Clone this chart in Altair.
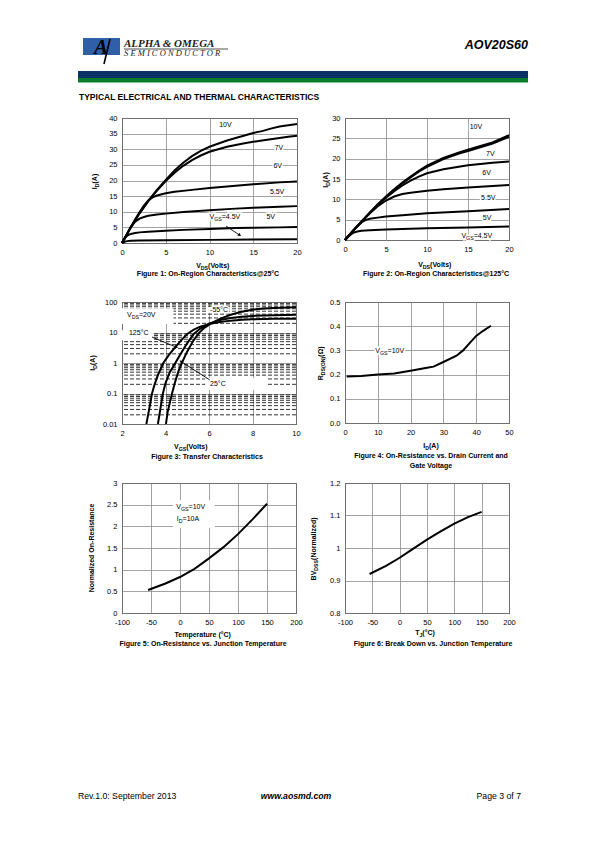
import altair as alt
import pandas as pd

F = "Liberation Sans"
SERIF = "Liberation Serif"
GRID = "#8c8c8c"

# ---------------- Figure 1 : On-region characteristics @25C ----------------
F1_X_BIG = [0, 0.5, 1, 2, 3, 4, 5, 6, 7, 8, 9, 10, 12, 14, 15, 16, 17, 18, 19, 20]
F1_Y_10V = [0, 2.5, 5, 9.5, 13.5, 17, 20.2, 23.2, 25.7, 27.8, 29.5, 30.8, 32.8, 34.4, 35.2, 35.8, 36.6, 37.3, 37.7, 38.1]
F1_Y_7V = [0, 2.5, 5, 9.5, 13.4, 16.8, 19.8, 22.5, 24.7, 26.5, 28, 29.2, 30.8, 31.9, 32.4, 32.8, 33.2, 33.6, 34.0, 34.3]
F1_X_6V = [0, 0.5, 1, 1.5, 2, 2.5, 3, 3.5, 4, 5, 6, 8, 10, 12, 15, 18, 20]
F1_Y_6V = [0, 2.5, 5, 7.5, 9.8, 12, 13.6, 14.6, 15.2, 15.9, 16.4, 17.0, 17.6, 18.1, 18.8, 19.4, 19.7]
F1_X_55V = [0, 0.5, 1, 1.5, 2, 2.5, 3, 4, 5, 7, 10, 13, 15, 18, 20]
F1_Y_55V = [0, 2.5, 5, 6.8, 7.8, 8.3, 8.7, 9.1, 9.4, 9.9, 10.5, 11.0, 11.3, 11.6, 11.8]
F1_X_5V = [0, 0.3, 0.6, 1, 1.5, 2, 3, 5, 7, 10, 13, 15, 18, 20]
F1_Y_5V = [0, 1.5, 2.4, 2.9, 3.2, 3.4, 3.6, 3.9, 4.2, 4.5, 4.8, 4.9, 5.0, 5.1]
F1_X_45V = [0, 0.3, 0.6, 1, 2, 5, 10, 15, 20]
F1_Y_45V = [0, 0.4, 0.6, 0.7, 0.8, 0.9, 1.0, 1.1, 1.2]

# ---------------- Figure 2 : On-region characteristics @125C ----------------
F2_X_BIG = [0, 1, 2, 3, 4, 5, 6, 7, 8, 9, 10, 12, 14, 15, 16, 18, 20]
F2_Y_10V = [0, 2.3, 4.5, 6.7, 8.8, 10.7, 12.5, 14.1, 15.6, 17, 18.3, 20.2, 21.6, 22.2, 22.8, 24, 25.8]
F2_Y_7V = [0, 2.3, 4.5, 6.6, 8.7, 10.6, 12.4, 13.9, 15.4, 16.8, 18.0, 19.9, 21.3, 21.9, 22.5, 23.7, 25.4]
F2_X_6V = [0, 1, 2, 3, 4, 5, 6, 7, 8, 9, 10, 12, 15, 18, 20]
F2_Y_6V = [0, 2.3, 4.5, 6.6, 8.6, 10.4, 12, 13.4, 14.6, 15.6, 16.4, 17.4, 18.4, 19.0, 19.3]
F2_X_55V = [0, 1, 2, 3, 4, 5, 6, 7, 8, 10, 12, 15, 18, 20]
F2_Y_55V = [0, 2.3, 4.4, 6.5, 8.3, 9.7, 10.7, 11.3, 11.6, 12.1, 12.5, 12.9, 13.3, 13.5]
F2_X_5V = [0, 0.5, 1, 1.5, 2, 2.5, 3, 4, 5, 7, 10, 15, 20]
F2_Y_5V = [0, 1.2, 2.3, 3.4, 4.3, 4.9, 5.2, 5.5, 5.8, 6.1, 6.6, 7.1, 7.6]
F2_X_45V = [0, 0.5, 1, 1.5, 2, 3, 5, 10, 15, 20]
F2_Y_45V = [0, 1.0, 1.8, 2.1, 2.3, 2.4, 2.6, 2.9, 3.1, 3.3]

# ---------------- Figure 3 : Transfer characteristics ----------------
F3_X_125 = [3.12, 3.2, 3.28, 3.38, 3.5, 3.65, 3.9, 4.15, 4.4, 4.7, 5.0, 5.3, 5.6, 6.0, 6.5, 7.0, 7.5, 8, 9, 10]
F3_Y_125 = [0.01, 0.02, 0.04, 0.1, 0.2, 0.4, 1.0, 1.8, 3.0, 5.3, 9.0, 12.5, 15.5, 18.8, 22, 24.5, 26, 27, 28, 28.5]
F3_X_25 = [3.65, 3.72, 3.8, 3.88, 4.0, 4.2, 4.45, 4.7, 5.0, 5.3, 5.6, 6.0, 6.5, 7.0, 7.5, 8, 9, 10]
F3_Y_25 = [0.01, 0.02, 0.045, 0.1, 0.22, 0.5, 1.0, 2.0, 4.5, 9.0, 13.5, 19.5, 25.5, 30, 33, 35, 37, 38]
F3_X_M55 = [4.02, 4.1, 4.2, 4.3, 4.45, 4.6, 4.75, 5.0, 5.25, 5.5, 5.8, 6.1, 6.5, 7.0, 7.5, 8, 8.5, 9, 10]
F3_Y_M55 = [0.01, 0.025, 0.05, 0.1, 0.25, 0.55, 1.0, 2.4, 5.0, 9.0, 14.5, 20, 28, 38, 48, 56, 61, 64, 67]
F3_MINOR = [0.02, 0.03, 0.04, 0.05, 0.06, 0.07, 0.08, 0.09,
            0.2, 0.3, 0.4, 0.5, 0.6, 0.7, 0.8, 0.9,
            2, 3, 4, 5, 6, 7, 8, 9,
            20, 30, 40, 50, 60, 70, 80, 90]

# ---------------- Figure 4 : Rds(on) vs drain current ----------------
F4_ID = [0.5, 5, 10, 15, 20, 25, 27, 30, 34, 36, 38, 40, 42, 44.5]
F4_R = [0.192, 0.194, 0.2, 0.205, 0.216, 0.228, 0.233, 0.252, 0.278, 0.3, 0.33, 0.36, 0.38, 0.402]

# ---------------- Figure 5 : normalized Rds(on) vs temperature ----------------
F5_T = [-55, -25, 0, 25, 50, 75, 100, 125, 150]
F5_R = [0.53, 0.68, 0.83, 1.02, 1.26, 1.52, 1.82, 2.16, 2.52]

# ---------------- Figure 6 : breakdown vs temperature ----------------
F6_T = [-55, -25, 0, 25, 50, 75, 100, 125, 150]
F6_BV = [0.920, 0.945, 0.970, 0.998, 1.026, 1.051, 1.075, 1.095, 1.111]

ONE = alt.Data(values=[{"a": 1}])

REG = {' ': .278, '(': .333, ')': .333, '.': .278, '=': .584, '°': .4, 'Ω': .768,
       'A': .667, 'B': .667, 'C': .722, 'D': .722, 'G': .778, 'I': .278, 'J': .5, 'N': .722,
       'O': .778, 'R': .722, 'S': .667, 'T': .611, 'V': .667, 'a': .556, 'd': .556, 'e': .556,
       'i': .222, 'l': .222, 'm': .833, 'o': .556, 'r': .333, 's': .5, 't': .278, 'z': .5,
       'u': .556, 'p': .556, 'c': .5, 'n': .556, '-': .333}
BOLD = {' ': .278, '(': .333, ')': .333, '.': .278, '=': .584, '°': .4, 'Ω': .768,
        'A': .722, 'B': .722, 'C': .722, 'D': .722, 'G': .778, 'I': .278, 'J': .556, 'N': .722,
        'O': .778, 'R': .722, 'S': .667, 'T': .611, 'V': .667, 'a': .556, 'd': .611, 'e': .556,
        'i': .278, 'l': .278, 'm': .889, 'o': .611, 'r': .389, 's': .556, 't': .333, 'z': .5,
        'u': .611, 'p': .611, 'c': .556, 'n': .611, '-': .333}


def tw(s, size, bold):
    tbl = BOLD if bold else REG
    return sum(tbl.get(c, 0.556) for c in s) * size


def vtext(text, x, y, size=7, bold=False, align="left", baseline="middle", angle=0,
          italic=False, font=F, color="black"):
    kw = dict(text=text, align=align, baseline=baseline, fontSize=size, font=font,
              fill=color, fontWeight="bold" if bold else "normal")
    if italic:
        kw["fontStyle"] = "italic"
    if angle:
        kw["angle"] = angle
    return alt.Chart(ONE).mark_text(**kw).encode(x=alt.value(x), y=alt.value(y))


def rich(parts, x, y, size=7, bold=True, angle=0):
    sub = size * 0.75
    ws = [tw(t, sub if s else size, bold) for t, s in parts]
    W = sum(ws)
    acc = 0
    out = []
    for (t, s), w in zip(parts, ws):
        fs = sub if s else size
        if angle == 0:
            out.append(vtext(t, x - W / 2 + acc, y + (2 if s else 0), fs, bold))
        else:
            out.append(vtext(t, x + (2 if s else 0), y + W / 2 - acc, fs, bold, angle=270))
        acc += w
    return out


def axis_q(values, fmt=None):
    kw = dict(values=values, title=None, grid=True, gridColor=GRID, gridWidth=0.8,
              ticks=False, domain=False, labelFont=F, labelFontSize=7.5, labelColor="black",
              labelPadding=5, labelFlush=False, labelOverlap=False,
              labelExpr="replace(datum.label, '\u2212', '-')")
    if fmt:
        kw["format"] = fmt
    return alt.Axis(**kw)


def encs(xdom, xvals, ydom, yvals, ylog=False, yfmt=None):
    ex = alt.X("x:Q", scale=alt.Scale(domain=xdom, nice=False, zero=False), axis=axis_q(xvals))
    if ylog:
        ys = alt.Scale(type="log", domain=ydom, nice=False)
    else:
        ys = alt.Scale(domain=ydom, nice=False, zero=False)
    ey = alt.Y("y:Q", scale=ys, axis=axis_q(yvals, yfmt))
    return ex, ey


def dlabel(parts, xv, yv, ex, ey, size=7, halo=True):
    sub = size * 0.75
    ws = [tw(t, sub if s else size, False) for t, s in parts]
    df = pd.DataFrame({"x": [xv], "y": [yv]})
    hal, txt = [], []
    acc = 0
    for (t, s), w in zip(parts, ws):
        fs = sub if s else size
        dy = 2 if s else 0
        if halo:
            hal.append(alt.Chart(df).mark_text(text=t, align="left", baseline="middle", fontSize=fs,
                                               font=F, dx=acc, dy=dy, stroke="white", strokeWidth=3,
                                               fill="white").encode(x=ex, y=ey))
        txt.append(alt.Chart(df).mark_text(text=t, align="left", baseline="middle", fontSize=fs,
                                           font=F, dx=acc, dy=dy, fill="black").encode(x=ex, y=ey))
        acc += w
    return hal + txt


def series(pairs):
    rows = []
    for name, xs, ys in pairs:
        for a, b in zip(xs, ys):
            rows.append({"s": name, "x": a, "y": b})
    return pd.DataFrame(rows)


def curves(df, ex, ey):
    return alt.Chart(df).mark_line(color="black", strokeWidth=2).encode(x=ex, y=ey, detail="s:N")


def arrow(x0, y0, x1, y1, ang, ex, ey):
    seg = alt.Chart(pd.DataFrame({"x": [x0, x1], "y": [y0, y1]})).mark_line(
        color="black", strokeWidth=0.9).encode(x=ex, y=ey)
    head = alt.Chart(pd.DataFrame({"x": [x1], "y": [y1]})).mark_point(
        shape="triangle", angle=ang, size=14, filled=True, color="black", opacity=1).encode(x=ex, y=ey)
    return [seg, head]


def boxes(rects, ex, ey):
    df = pd.DataFrame(rects, columns=["x", "x2", "y", "y2"])
    return alt.Chart(df).mark_rect(color="white").encode(
        x=ex, x2=alt.X2("x2"), y=ey, y2=alt.Y2("y2"))


FRAME = alt.ViewBackground(stroke="black", strokeWidth=1)

# ---------------- Figure 1 ----------------
ex, ey = encs([0, 20], [0, 5, 10, 15, 20], [0, 40], [0, 5, 10, 15, 20, 25, 30, 35, 40])
d1 = series([("10V", F1_X_BIG, F1_Y_10V), ("7V", F1_X_BIG, F1_Y_7V), ("6V", F1_X_6V, F1_Y_6V),
             ("5.5V", F1_X_55V, F1_Y_55V), ("5V", F1_X_5V, F1_Y_5V), ("4.5V", F1_X_45V, F1_Y_45V)])
fig1 = alt.layer(
    curves(d1, ex, ey),
    *dlabel([("10V", 0)], 11.1, 37.8, ex, ey),
    *dlabel([("7V", 0)], 17.45, 30.4, ex, ey),
    *dlabel([("6V", 0)], 17.3, 24.5, ex, ey),
    *dlabel([("5.5V", 0)], 16.9, 16.2, ex, ey),
    *dlabel([("5V", 0)], 16.5, 8.2, ex, ey),
    *dlabel([("V", 0), ("GS", 1), ("=4.5V", 0)], 10.0, 8.4, ex, ey),
    *arrow(11.9, 5.4, 13.4, 2.6, 125, ex, ey),
    *rich([("I", 0), ("D", 1), (" (A)", 0)], -27, 62.5, angle=270),
    *rich([("V", 0), ("DS", 1), (" (Volts)", 0)], 92, 148),
    vtext("Figure 1: On-Region Characteristics@25°C", 86, 156, 7, True, align="center"),
).properties(width=175, height=125, view=FRAME)

# ---------------- Figure 2 ----------------
ex, ey = encs([0, 20], [0, 5, 10, 15, 20], [0, 30], [0, 5, 10, 15, 20, 25, 30])
d2 = series([("10V", F2_X_BIG, F2_Y_10V), ("7V", F2_X_BIG, F2_Y_7V), ("6V", F2_X_6V, F2_Y_6V),
             ("5.5V", F2_X_55V, F2_Y_55V), ("5V", F2_X_5V, F2_Y_5V), ("4.5V", F2_X_45V, F2_Y_45V)])
fig2 = alt.layer(
    curves(d2, ex, ey),
    *dlabel([("10V", 0)], 15.2, 27.8, ex, ey),
    *dlabel([("7V", 0)], 17.2, 21.2, ex, ey),
    *dlabel([("6V", 0)], 16.75, 16.5, ex, ey),
    *dlabel([("5.5V", 0)], 16.6, 10.25, ex, ey),
    *dlabel([("5V", 0)], 16.8, 5.3, ex, ey),
    *dlabel([("V", 0), ("GS", 1), ("=4.5V", 0)], 14.2, 0.9, ex, ey),
    *rich([("I", 0), ("D", 1), (" (A)", 0)], -19, 61, angle=270),
    *rich([("V", 0), ("DS", 1), (" (Volts)", 0)], 91, 147),
    vtext("Figure 2: On-Region Characteristics@125°C", 91, 156, 7, True, align="center"),
).properties(width=164, height=122, view=FRAME)

# ---------------- Figure 3 ----------------
ex, ey = encs([2, 10], [2, 4, 6, 8, 10], [0.01, 100], [0.01, 0.1, 1, 10, 100], ylog=True, yfmt="~g")
d3 = series([("125", F3_X_125, F3_Y_125), ("25", F3_X_25, F3_Y_25), ("-55", F3_X_M55, F3_Y_M55)])
minor = alt.Chart(pd.DataFrame({"y": F3_MINOR})).mark_rule(
    color="black", strokeWidth=0.8, strokeDash=[4, 2]).encode(y=ey)
fig3 = alt.layer(
    minor,
    boxes([(2, 4.37, 19, 62), (5.9, 6.75, 44, 69), (2, 3.45, 5.6, 12), (5.82, 8.65, 0.13, 0.32)], ex, ey),
    curves(d3, ex, ey),
    *dlabel([("V", 0), ("DS", 1), ("=20V", 0)], 2.23, 37.5, ex, ey),
    *dlabel([("-55°C", 0)], 6.05, 56, ex, ey),
    *dlabel([("125°C", 0)], 2.32, 9.3, ex, ey),
    *dlabel([("25°C", 0)], 6.05, 0.2, ex, ey),
    *arrow(3.38, 7.1, 4.48, 3.35, 113, ex, ey),
    *arrow(6.03, 0.28, 4.73, 1.1, 302, ex, ey),
    *rich([("I", 0), ("D", 1), ("(A)", 0)], -29, 61, angle=270),
    *rich([("V", 0), ("GS", 1), ("(Volts)", 0)], 69, 145),
    vtext("Figure 3: Transfer Characteristics", 85, 155, 7, True, align="center"),
).properties(width=174, height=122, view=FRAME)

# ---------------- Figure 4 ----------------
ex, ey = encs([0, 50], [0, 10, 20, 30, 40, 50], [0, 0.5], [0, 0.1, 0.2, 0.3, 0.4, 0.5], yfmt=".1f")
d4 = series([("r", F4_ID, F4_R)])
fig4 = alt.layer(
    curves(d4, ex, ey),
    *dlabel([("V", 0), ("GS", 1), ("=10V", 0)], 9.24, 0.299, ex, ey),
    *rich([("R", 0), ("DS(ON)", 1), (" (Ω)", 0)], -24, 60.5, angle=270),
    *rich([("I", 0), ("D", 1), (" (A)", 0)], 87, 144),
    vtext("Figure 4: On-Resistance vs. Drain Current and", 86, 154, 7, True, align="center"),
    vtext("Gate Voltage", 86, 164, 7, True, align="center"),
).properties(width=164, height=121, view=FRAME)

# ---------------- Figure 5 ----------------
ex, ey = encs([-100, 200], [-100, -50, 0, 50, 100, 150, 200], [0, 3], [0, 0.5, 1, 1.5, 2, 2.5, 3], yfmt="~g")
d5 = series([("r", F5_T, F5_R)])
fig5 = alt.layer(
    boxes([(-12, 60, 1.97, 2.6)], ex, ey),
    curves(d5, ex, ey),
    *dlabel([("V", 0), ("GS", 1), ("=10V", 0)], -6.4, 2.44, ex, ey),
    *dlabel([("I", 0), ("D", 1), ("=10A", 0)], -5.5, 2.17, ex, ey),
    *rich([("Normalized On-Resistance", 0)], -30, 65, angle=270),
    *rich([("Temperature (°C)", 0)], 81, 152),
    vtext("Figure 5: On-Resistance vs. Junction Temperature", 81, 161, 7, True, align="center"),
).properties(width=174, height=130, view=FRAME)

# ---------------- Figure 6 ----------------
ex, ey = encs([-100, 200], [-100, -50, 0, 50, 100, 150, 200], [0.8, 1.2], [0.8, 0.9, 1.0, 1.1, 1.2], yfmt="~g")
d6 = series([("bv", F6_T, F6_BV)])
fig6 = alt.layer(
    curves(d6, ex, ey),
    *rich([("BV", 0), ("DSS", 1), (" (Normalized)", 0)], -31, 65, angle=270),
    *rich([("T", 0), ("J", 1), (" (°C)", 0)], 81, 150),
    vtext("Figure 6: Break Down vs. Junction Temperature", 88, 161, 7, True, align="center"),
).properties(width=164, height=130, view=FRAME)


def spacer(w, h, extra=()):
    base = alt.Chart(ONE).mark_point(opacity=0)
    if extra:
        return alt.layer(base, *extra).properties(width=w, height=h)
    return base.properties(width=w, height=h)


def vrect(x, x2, y, y2, color):
    return alt.Chart(ONE).mark_rect(color=color).encode(
        x=alt.value(x), x2=alt.value(x2), y=alt.value(y), y2=alt.value(y2))


def vrule(x, x2, y, y2, w=1, color="black"):
    return alt.Chart(ONE).mark_rule(color=color, strokeWidth=w).encode(
        x=alt.value(x), x2=alt.value(x2), y=alt.value(y), y2=alt.value(y2))


# header: drawn in the top-left cell, which sits at page (8, 118); header marks go above it
H0 = -110  # page y = 8
header = [
    vrect(0, 579, H0, H0 + 1, "white"),
    vrect(75, 112, H0 + 30, H0 + 47, "#2f5fa8"),
    vtext("A", 93, H0 + 40, 21, True, align="center", italic=True, font=SERIF),
    vrule(102, 96, H0 + 31, H0 + 56, 1.6),
    vtext("ALPHA & OMEGA", 116, H0 + 39, 11, True, baseline="alphabetic", italic=True, font=SERIF,
          color="#222222"),
    vrule(116, 220, H0 + 41, H0 + 41, 0.8, "#222222"),
    vtext("S E M I C O N D U C T O R", 116, H0 + 47.5, 8.5, False, baseline="alphabetic", italic=True,
          font=SERIF, color="#222222"),
    vtext("AOV20S60", 520, H0 + 37, 12.5, True, align="right", italic=True),
    vrect(70, 520, H0 + 63, H0 + 70, "#0b3266"),
    vrect(70, 520, H0 + 70, H0 + 74.5, "#0a7d2c"),
    vtext("TYPICAL ELECTRICAL AND THERMAL CHARACTERISTICS", 71, H0 + 89, 8.5, True),
]

# footer: drawn in the bottom-left cell, which sits at page (8, 484)
FY = 797 - 484
footer = [
    vtext("Rev.1.0: September 2013", 70, FY, 8.7),
    vtext("www.aosmd.com", 288, FY, 8.7, True, align="center", italic=True),
    vtext("Page 3 of 7", 513, FY, 8.7, align="right"),
]

cells = [
    spacer(114, 10, header), fig1, spacer(48, 10), fig2,
    spacer(114, 10), fig3, spacer(48, 10), fig4,
    spacer(114, 10, footer), fig5, spacer(48, 10), fig6,
]

chart = alt.concat(
    *cells, columns=4, spacing={"row": 59, "column": 0}, bounds="flush",
    align={"row": "each", "column": "each"}
).properties(padding=0, background="white").configure_view(stroke=None)

chart.save("out.html", embed_options={"renderer": "svg", "actions": False})
